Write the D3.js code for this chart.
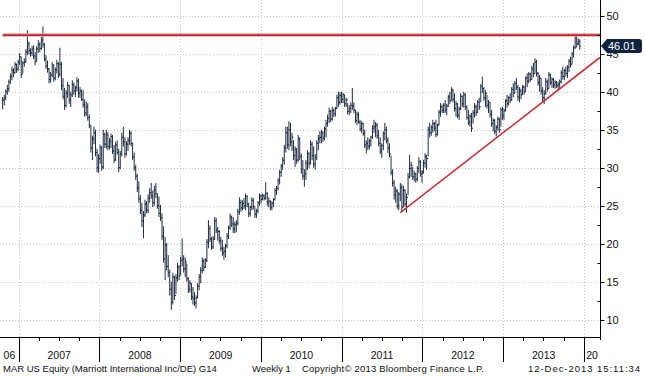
<!DOCTYPE html>
<html>
<head>
<meta charset="utf-8">
<script src="https://cdn.jsdelivr.net/npm/d3@7"></script>
<style>
    body { margin: 0; background: #fff; }
    text { font-family: "Liberation Sans", Arial, sans-serif; }
</style>
</head>
<body>
<svg id="chart"></svg>
<script>
const width = 645, height = 376
const margin = {top: 0, right: 45, bottom: 39, left: 0}

// weekly bars, first one dated 2006-10-20, one per week
const firstWeek = new Date(2006, 9, 20)
const weekHigh = [
    39.3, 39.6, 40.3, 40.9, 41.6, 42.4, 43.3, 43.1, 43.9, 43.7,
    44.2, 45.1, 44.6, 44.0, 44.4, 45.6, 48.1, 46.6, 45.7, 46.0,
    46.1, 45.2, 46.0, 46.8, 46.5, 47.2, 48.6, 46.4, 44.8, 44.1,
    43.1, 42.6, 43.9, 43.6, 43.2, 44.2, 43.9, 45.8, 43.9, 41.8,
    40.5, 40.2, 41.3, 40.9, 40.0, 41.5, 41.2, 40.8, 41.9, 41.7,
    40.6, 40.3, 40.2, 39.0, 38.7, 38.5, 37.0, 35.6, 34.2, 35.4,
    35.0, 32.5, 31.8, 33.0, 32.8, 35.0, 34.6, 35.0, 34.7, 33.9,
    34.5, 34.3, 33.0, 33.4, 33.6, 32.5, 32.2, 34.6, 35.4, 34.0,
    33.5, 34.0, 35.0, 34.8, 33.3, 32.0, 30.4, 29.2, 28.2, 26.4,
    25.4, 24.3, 25.8, 25.6, 26.5, 27.3, 28.0, 27.0, 27.6, 28.0,
    26.6, 26.2, 25.1, 24.0, 22.3, 20.9, 20.1, 18.5, 16.6, 15.0,
    16.2, 15.8, 16.0, 17.5, 17.2, 18.3, 20.7, 18.5, 18.2, 17.4,
    15.6, 15.2, 14.8, 14.3, 13.6, 13.2, 14.8, 16.0, 16.9, 18.2,
    18.0, 18.1, 20.6, 23.1, 22.4, 20.9, 21.0, 23.5, 23.4, 22.2,
    21.8, 20.9, 20.5, 19.6, 20.0, 21.4, 22.4, 24.0, 23.7, 23.5,
    22.9, 23.1, 24.6, 26.1, 25.8, 25.7, 26.0, 26.6, 26.4, 25.4,
    25.0, 26.1, 26.0, 24.8, 24.6, 25.6, 26.6, 26.5, 26.6, 26.5,
    28.1, 26.8, 26.1, 25.7, 25.6, 26.0, 27.3, 27.6, 28.6, 29.7,
    30.5, 31.4, 33.0, 35.4, 35.4, 36.1, 35.9, 34.6, 33.6, 32.8,
    32.6, 34.3, 34.0, 31.9, 31.0, 29.8, 31.0, 32.3, 32.0, 33.6,
    33.4, 32.8, 31.8, 33.6, 34.3, 34.8, 35.0, 34.8, 35.4, 36.3,
    37.0, 37.9, 37.6, 38.0, 37.8, 38.0, 39.6, 40.0, 39.9, 40.0,
    39.8, 39.6, 39.2, 38.5, 38.2, 38.6, 40.5, 38.6, 37.6, 37.4,
    37.3, 36.3, 36.1, 35.9, 35.0, 33.6, 34.0, 33.8, 34.2, 35.6,
    36.3, 36.0, 35.9, 35.0, 34.0, 33.2, 34.8, 35.9, 35.4, 34.0,
    33.2, 31.6, 29.8, 28.4, 27.5, 27.2, 26.8, 28.0, 27.8, 27.6,
    27.2, 26.6, 29.3, 31.7, 30.8, 30.1, 29.6, 29.3, 30.2, 31.4,
    31.0, 29.7, 31.0, 31.9, 31.7, 35.4, 35.9, 35.6, 36.3, 36.0,
    36.3, 35.8, 37.6, 38.5, 38.3, 38.5, 38.9, 38.4, 39.6, 40.0,
    40.6, 40.4, 39.8, 38.8, 38.5, 38.0, 39.8, 39.5, 40.0, 39.8,
    38.2, 37.6, 37.0, 37.2, 37.6, 38.5, 38.3, 38.9, 39.2, 41.0,
    42.0, 40.6, 40.2, 39.6, 38.9, 38.6, 37.6, 36.5, 36.4, 35.6,
    36.7, 36.6, 37.9, 38.0, 37.8, 39.0, 39.6, 39.4, 39.8, 40.6,
    41.1, 41.4, 41.8, 40.9, 40.6, 40.4, 40.9, 40.8, 42.0, 42.4,
    42.6, 42.5, 43.4, 43.8, 44.4, 44.2, 42.6, 42.2, 41.8, 40.6,
    40.2, 41.8, 41.6, 42.6, 42.4, 41.9, 41.8, 41.5, 41.4, 41.3,
    41.6, 42.8, 43.3, 43.0, 43.3, 43.5, 44.3, 44.6, 45.2, 46.1,
    47.7, 47.3, 47.0, 46.9,
]
const weekLow = [
    37.7, 38.2, 38.9, 39.6, 40.0, 41.0, 41.5, 41.9, 42.4, 42.5,
    42.7, 43.5, 41.8, 42.4, 43.3, 43.8, 44.8, 44.9, 44.6, 44.7,
    44.3, 43.5, 44.0, 45.1, 45.2, 45.5, 45.8, 44.0, 43.0, 42.5,
    41.1, 41.2, 41.9, 41.3, 41.5, 42.4, 41.8, 42.0, 40.2, 39.0,
    37.6, 37.9, 39.2, 38.4, 38.0, 39.3, 39.6, 39.3, 40.0, 39.2,
    39.2, 38.8, 37.9, 36.7, 36.8, 36.2, 35.2, 32.0, 31.0, 33.1,
    31.5, 29.4, 29.3, 30.5, 29.6, 29.8, 32.6, 32.5, 32.3, 32.4,
    32.6, 31.8, 30.6, 30.9, 31.7, 29.4, 29.8, 31.5, 32.8, 31.3,
    31.6, 32.2, 33.0, 32.8, 31.0, 29.6, 28.4, 26.8, 25.4, 23.9,
    22.2, 20.7, 23.5, 24.0, 24.0, 25.4, 25.9, 24.8, 25.0, 26.0,
    24.6, 23.5, 23.0, 20.5, 17.5, 15.2, 16.5, 15.6, 13.2, 11.3,
    12.0, 12.6, 13.4, 15.0, 15.2, 15.9, 17.0, 16.2, 15.6, 15.0,
    13.5, 13.6, 12.6, 12.0, 11.8, 11.5, 12.8, 13.9, 14.8, 16.1,
    16.4, 16.8, 17.6, 19.4, 20.2, 19.2, 19.3, 20.5, 21.4, 20.4,
    20.0, 19.0, 18.4, 17.9, 18.2, 19.4, 20.6, 21.8, 22.2, 21.4,
    21.4, 21.5, 22.4, 23.8, 24.2, 24.4, 24.6, 24.4, 24.8, 23.5,
    23.6, 24.4, 24.5, 23.4, 23.4, 24.0, 25.0, 25.3, 25.7, 25.7,
    25.8, 25.0, 24.8, 24.4, 24.4, 24.8, 25.7, 26.4, 27.0, 27.8,
    28.8, 29.7, 30.4, 32.0, 32.5, 32.3, 32.8, 32.2, 31.0, 30.1,
    30.5, 30.8, 31.0, 29.2, 28.4, 27.5, 28.4, 29.7, 30.0, 30.4,
    31.0, 30.0, 29.7, 31.0, 32.3, 33.2, 33.2, 33.4, 33.6, 34.0,
    35.4, 35.9, 36.0, 36.2, 36.7, 36.7, 37.7, 38.0, 38.3, 38.5,
    38.5, 38.0, 38.0, 37.0, 36.9, 37.2, 37.6, 37.2, 35.9, 35.6,
    35.8, 34.8, 34.6, 34.2, 32.6, 31.9, 32.3, 32.4, 32.8, 33.8,
    34.6, 34.0, 33.8, 32.8, 31.8, 31.3, 32.3, 33.6, 33.2, 31.9,
    31.4, 29.0, 27.5, 25.8, 25.4, 24.6, 24.4, 25.6, 24.2, 24.8,
    24.9, 24.1, 26.4, 28.6, 28.8, 28.4, 28.2, 28.0, 28.2, 29.3,
    28.8, 28.0, 29.2, 30.0, 29.7, 31.5, 34.0, 34.2, 34.6, 34.8,
    34.0, 34.2, 35.6, 36.7, 37.2, 37.2, 37.2, 36.9, 38.0, 38.4,
    38.8, 38.6, 37.4, 36.7, 36.5, 36.3, 37.6, 38.0, 37.9, 37.6,
    36.3, 35.6, 35.4, 34.7, 35.8, 36.6, 36.8, 37.2, 37.6, 38.6,
    39.8, 38.8, 38.0, 37.8, 37.2, 36.6, 35.4, 34.8, 34.4, 34.1,
    34.9, 34.6, 35.4, 36.3, 36.3, 37.4, 37.9, 38.2, 38.5, 38.8,
    39.3, 39.8, 40.2, 38.8, 38.6, 39.0, 39.6, 39.6, 40.0, 40.6,
    41.1, 41.3, 41.6, 41.9, 42.4, 42.0, 40.8, 40.0, 39.6, 38.6,
    38.4, 39.6, 40.0, 40.4, 40.9, 40.5, 40.5, 40.4, 40.5, 40.2,
    40.5, 41.1, 41.6, 41.5, 42.0, 41.8, 42.6, 43.2, 43.6, 44.5,
    45.6, 45.8, 46.1, 45.5,
]
const weekClose = [
    38.9, 39.2, 40.0, 40.4, 41.3, 42.0, 42.8, 42.5, 43.6, 43.0,
    43.9, 44.6, 42.3, 43.8, 43.9, 45.2, 46.3, 45.4, 45.1, 45.6,
    44.7, 44.0, 45.6, 46.2, 45.7, 46.8, 46.2, 44.3, 43.4, 43.0,
    41.6, 42.2, 43.5, 41.8, 42.9, 43.7, 42.3, 43.6, 40.8, 39.4,
    38.2, 39.8, 40.8, 38.9, 39.6, 40.9, 40.1, 40.5, 41.4, 39.8,
    40.1, 39.0, 38.3, 37.2, 38.0, 36.6, 35.6, 32.6, 33.8, 34.6,
    32.0, 30.0, 31.2, 32.7, 30.1, 34.4, 33.1, 34.3, 32.8, 33.5,
    34.1, 32.2, 31.0, 33.0, 32.0, 30.0, 31.8, 34.0, 33.4, 31.8,
    33.1, 33.6, 34.5, 33.2, 31.4, 30.0, 28.9, 27.3, 25.9, 24.4,
    23.0, 23.8, 25.2, 24.4, 26.0, 26.7, 26.3, 25.4, 27.1, 26.6,
    25.0, 24.0, 23.4, 21.0, 18.0, 19.8, 17.0, 16.2, 14.0, 12.3,
    15.6, 13.2, 15.5, 16.9, 15.8, 17.8, 18.0, 16.7, 17.6, 15.4,
    14.0, 14.8, 13.0, 12.8, 12.2, 12.9, 14.4, 15.6, 16.5, 17.7,
    16.9, 17.8, 20.2, 22.0, 20.6, 19.6, 20.6, 23.0, 21.8, 21.6,
    20.4, 19.4, 18.8, 19.0, 19.7, 21.0, 22.1, 23.5, 22.6, 21.9,
    22.5, 22.7, 24.2, 25.4, 24.7, 25.3, 25.0, 26.2, 25.2, 24.0,
    24.8, 25.7, 24.9, 23.9, 24.3, 25.4, 26.3, 25.8, 26.3, 26.0,
    26.6, 25.4, 25.6, 24.8, 25.3, 25.8, 27.0, 27.3, 28.3, 29.4,
    30.2, 31.0, 32.6, 34.6, 33.0, 35.0, 33.4, 34.0, 31.6, 32.4,
    31.0, 33.8, 31.5, 29.8, 28.9, 29.2, 30.6, 31.9, 30.6, 33.1,
    31.6, 30.5, 31.4, 33.2, 33.8, 34.0, 34.6, 33.9, 35.1, 35.8,
    36.5, 37.4, 36.4, 37.5, 37.1, 37.8, 39.2, 38.6, 39.5, 39.0,
    39.6, 38.4, 38.9, 37.4, 37.8, 38.2, 38.1, 37.6, 36.2, 37.0,
    36.0, 35.1, 35.8, 34.5, 33.0, 33.2, 32.8, 33.5, 34.0, 35.2,
    35.4, 35.6, 34.2, 33.2, 32.2, 32.9, 34.5, 35.0, 33.6, 32.6,
    31.8, 29.4, 28.0, 26.4, 26.9, 25.0, 26.5, 27.4, 24.8, 27.0,
    25.2, 26.1, 28.8, 29.9, 30.3, 28.8, 29.2, 28.5, 29.9, 30.8,
    29.2, 29.4, 30.6, 31.5, 31.2, 35.0, 34.6, 35.3, 35.8, 35.2,
    34.4, 35.6, 37.3, 38.0, 37.5, 38.2, 37.6, 38.1, 39.3, 38.8,
    40.2, 39.0, 37.8, 38.4, 36.9, 37.7, 39.4, 38.4, 39.6, 38.0,
    36.6, 36.0, 36.8, 35.2, 37.2, 38.0, 37.3, 38.6, 38.0, 40.7,
    40.4, 39.2, 39.8, 38.2, 38.6, 37.0, 35.8, 36.2, 34.8, 35.3,
    36.4, 35.0, 37.6, 36.8, 37.5, 38.8, 38.4, 39.2, 38.9, 40.3,
    39.8, 41.1, 40.6, 39.3, 40.1, 39.6, 40.6, 40.0, 41.8, 41.4,
    42.3, 41.6, 43.0, 42.4, 43.9, 42.4, 41.2, 41.8, 40.1, 39.2,
    39.8, 41.3, 40.4, 42.2, 41.2, 41.6, 40.9, 41.2, 40.8, 41.0,
    41.3, 42.5, 42.0, 42.8, 42.4, 43.2, 44.0, 43.6, 45.0, 45.8,
    47.2, 46.3, 46.6, 46.01,
]

const priceTicks = [10, 15, 20, 25, 30, 35, 40, 45, 50]
const yearLabels = ["06", "2007", "2008", "2009", "2010", "2011", "2012", "2013", "20"]
const yearStarts = d3.range(2006, 2015).map(y => new Date(y, 0, 1))

const resistanceLevel = 47.45
const trendFrom = {date: new Date(2011, 8, 23), value: 24.1}
const trendTo = {date: new Date(2014, 2, 14), value: 44.5}
const lastPrice = 46.01

const footerTexts = [
    "MAR US Equity (Marriott International Inc/DE) G14",
    "Weekly 1",
    "Copyright\u00A9 2013 Bloomberg Finance L.P.",
    "12-Dec-2013 15:11:34",
]

const bars = weekHigh.map((high, i) => ({
    date: d3.timeWeek.offset(firstWeek, i),
    high,
    low: weekLow[i],
    close: weekClose[i],
    open: i === 0 ? weekClose[0] : weekClose[i - 1],
}))

const plotRight = width - margin.right
const plotBottom = height - margin.bottom

const xScale = d3.scaleTime()
    .domain([new Date(2007, 0, 1), new Date(2014, 0, 1)])
    .range([18.8, 584])

const yScale = d3.scaleLinear()
    .domain([10, 50])
    .range([319.7, 15.7])

const svg = d3.select("svg#chart")
    .attr("width", width)
    .attr("height", height)
    .attr("viewBox", [0, 0, width, height])

svg.append("rect")
    .attr("width", width).attr("height", height)
    .attr("fill", "#fff")

// H grid lines
svg.append("g").classed("h-grid", true)
    .selectAll("line")
    .data(priceTicks)
    .join("line")
    .attr("x1", margin.left)
    .attr("x2", plotRight)
    .attr("y1", d => Math.round(yScale(d)) + 0.5)
    .attr("y2", d => Math.round(yScale(d)) + 0.5)
    .attr("stroke", "#c4c4c4")
    .attr("stroke-dasharray", "1,2")

// V grid lines at year starts
const innerYears = yearStarts.filter(d => xScale(d) > 0 && xScale(d) < plotRight)
svg.append("g").classed("v-grid", true)
    .selectAll("line")
    .data(innerYears)
    .join("line")
    .attr("x1", d => Math.round(xScale(d)) + 0.5)
    .attr("x2", d => Math.round(xScale(d)) + 0.5)
    .attr("y1", margin.top)
    .attr("y2", plotBottom)
    .attr("stroke", "#c4c4c4")
    .attr("stroke-dasharray", "1,2")

// weekly bars
const barsG = svg.append("g").classed("bars", true)
    .attr("stroke", "#152238")
    .attr("stroke-width", 0.95)
barsG.selectAll("line.hl")
    .data(bars)
    .join("line").classed("hl", true)
    .attr("x1", d => xScale(d.date))
    .attr("x2", d => xScale(d.date))
    .attr("y1", d => yScale(d.high))
    .attr("y2", d => yScale(d.low))
barsG.selectAll("line.cl")
    .data(bars)
    .join("line").classed("cl", true)
    .attr("x1", d => xScale(d.date))
    .attr("x2", d => xScale(d.date) + 1)
    .attr("y1", d => yScale(d.close))
    .attr("y2", d => yScale(d.close))
barsG.selectAll("line.op")
    .data(bars)
    .join("line").classed("op", true)
    .attr("x1", d => xScale(d.date) - 1)
    .attr("x2", d => xScale(d.date))
    .attr("y1", d => yScale(d.open))
    .attr("y2", d => yScale(d.open))

// resistance line
const resY = yScale(resistanceLevel)
svg.append("line")
    .attr("x1", xScale(firstWeek)).attr("x2", plotRight)
    .attr("y1", resY).attr("y2", resY)
    .attr("stroke", "#e9a9a9").attr("stroke-width", 3.5)
svg.append("line")
    .attr("x1", xScale(firstWeek)).attr("x2", plotRight)
    .attr("y1", resY).attr("y2", resY)
    .attr("stroke", "#c2252b").attr("stroke-width", 1.6)

// trend line
svg.append("line")
    .attr("x1", xScale(trendFrom.date)).attr("y1", yScale(trendFrom.value))
    .attr("x2", xScale(trendTo.date)).attr("y2", yScale(trendTo.value))
    .attr("stroke", "#c8333a").attr("stroke-width", 1.6)

// Y axis on the right
const yAxisG = svg.append("g").classed("y-axis", true)
    .attr("transform", `translate(${plotRight + 0.5}, 0)`)
yAxisG.append("line")
    .attr("y1", margin.top).attr("y2", plotBottom + 3)
    .attr("stroke", "#000")
yAxisG.selectAll("line.major")
    .data(priceTicks)
    .join("line").classed("major", true)
    .attr("x1", 0).attr("x2", 4)
    .attr("y1", d => Math.round(yScale(d)) + 0.5)
    .attr("y2", d => Math.round(yScale(d)) + 0.5)
    .attr("stroke", "#000")
yAxisG.selectAll("line.minor")
    .data(priceTicks.slice(1).map(d => d - 2.5))
    .join("line").classed("minor", true)
    .attr("x1", -3).attr("x2", 0)
    .attr("y1", d => Math.round(yScale(d)) + 0.5)
    .attr("y2", d => Math.round(yScale(d)) + 0.5)
    .attr("stroke", "#000")
yAxisG.selectAll("text")
    .data(priceTicks)
    .join("text")
    .attr("x", 6)
    .attr("y", d => yScale(d))
    .attr("dy", "0.35em")
    .attr("font-size", 11)
    .attr("fill", "#111")
    .text(d => d)

// last price flag
const flagY = yScale(lastPrice)
svg.append("path")
    .attr("d", `M${plotRight + 1},${flagY} L${plotRight + 7},${flagY - 7} H${width - 6} q3,0 3,3 V${flagY + 4} q0,3 -3,3 H${plotRight + 7} Z`)
    .attr("fill", "#0d2340")
svg.append("text")
    .attr("x", plotRight + 8)
    .attr("y", flagY)
    .attr("dy", "0.36em")
    .attr("font-size", 11)
    .attr("fill", "#fff")
    .text(lastPrice.toFixed(2))

// X axis
const xAxisG = svg.append("g").classed("x-axis", true)
xAxisG.append("line")
    .attr("x1", margin.left).attr("x2", plotRight + 1)
    .attr("y1", plotBottom + 0.5).attr("y2", plotBottom + 0.5)
    .attr("stroke", "#000")
xAxisG.selectAll("line.year")
    .data(innerYears)
    .join("line").classed("year", true)
    .attr("x1", d => Math.round(xScale(d)) + 0.5)
    .attr("x2", d => Math.round(xScale(d)) + 0.5)
    .attr("y1", plotBottom)
    .attr("y2", plotBottom + 25)
    .attr("stroke", "#000")
const quarters = d3.timeMonth.every(3).range(new Date(2006, 9, 1), new Date(2014, 2, 1))
    .filter(d => d.getMonth() !== 0)
xAxisG.selectAll("line.quarter")
    .data(quarters.filter(d => xScale(d) > 0 && xScale(d) < plotRight))
    .join("line").classed("quarter", true)
    .attr("x1", d => Math.round(xScale(d)) + 0.5)
    .attr("x2", d => Math.round(xScale(d)) + 0.5)
    .attr("y1", plotBottom)
    .attr("y2", plotBottom + 4)
    .attr("stroke", "#000")
xAxisG.selectAll("text")
    .data(yearLabels)
    .join("text")
    .attr("x", (d, i) => {
        const a = Math.max(xScale(yearStarts[i]), margin.left)
        const b = Math.min(xScale(d3.timeYear.offset(yearStarts[i], 1)), plotRight)
        return (a + b) / 2
    })
    .attr("y", plotBottom + 22)
    .attr("text-anchor", "middle")
    .attr("font-size", 10.5)
    .attr("fill", "#111")
    .text(d => d)

// footer, spread like the Bloomberg status line (null = natural width)
const footerSpots = [[3, null], [252, null], [302, 182], [528, 112]]
svg.append("g").classed("footer", true)
    .attr("font-size", 9.5)
    .attr("fill", "#111")
    .selectAll("text")
    .data(footerTexts)
    .join("text")
    .attr("x", (d, i) => footerSpots[i][0])
    .attr("y", 372)
    .attr("textLength", (d, i) => footerSpots[i][1])
    .attr("lengthAdjust", "spacing")
    .text(d => d)
</script>
</body>
</html>
